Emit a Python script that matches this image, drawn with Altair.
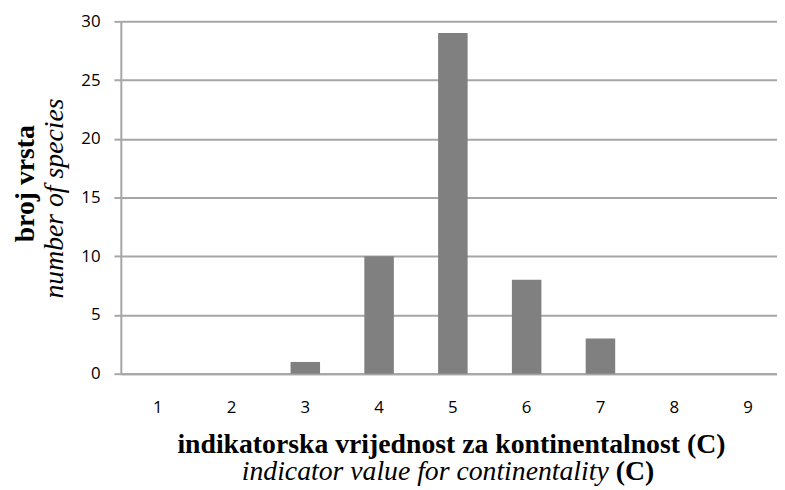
import altair as alt
import pandas as pd

categories = ["1", "2", "3", "4", "5", "6", "7", "8", "9"]
counts = [0, 0, 1, 10, 29, 8, 3, 0, 0]
y_ticks = [0, 5, 10, 15, 20, 25, 30]

y_title_1 = "broj vrsta"
y_title_2 = "number of species"
x_title_1 = "indikatorska vrijednost za kontinentalnost (C)"
x_title_2a = "indicator value for continentality"
x_title_2b = "(C)"

df = pd.DataFrame({"c": categories, "n": counts})
one = pd.DataFrame({"k": [0]})

GRID = "#a6a6a6"
SERIF = "Liberation Serif"
SANS = "Open Sans"

bars = alt.Chart(df).mark_bar(color="#808080").encode(
    x=alt.X("c:N", sort=categories,
            scale=alt.Scale(range=[0, 671], paddingInner=0.6, paddingOuter=0.3),
            axis=alt.Axis(title=None, labelAngle=0, ticks=False, grid=False,
                          domainColor=GRID, domainWidth=2,
                          labelFont=SANS, labelFontSize=17, labelColor="#000000",
                          labelPadding=26)),
    y=alt.Y("n:Q", scale=alt.Scale(domain=[0, 30], nice=False),
            axis=alt.Axis(title=None, values=y_ticks, grid=True, gridColor=GRID,
                          gridWidth=2, domainColor=GRID, domainWidth=2,
                          tickColor=GRID, tickWidth=2, tickSize=7,
                          labelFont=SANS, labelFontSize=17, labelColor="#000000",
                          labelPadding=14)),
)

def txt(s, x, y, **kw):
    return alt.Chart(one).mark_text(font=SERIF, fontSize=28, color="#000000", **kw).encode(
        x=alt.value(x), y=alt.value(y), text=alt.value(s))

t1 = txt(y_title_1, -88, 164, angle=270, fontWeight="bold", align="center", baseline="alphabetic")
t2 = txt(y_title_2, -58, 179, angle=270, fontStyle="italic", align="center", baseline="alphabetic")
t3 = txt(x_title_1, 334, 436, fontWeight="bold", align="center", baseline="alphabetic")
t4 = txt(x_title_2a, 493, 463, fontStyle="italic", align="right", baseline="alphabetic")
t5 = txt(x_title_2b, 500, 463, fontWeight="bold", align="left", baseline="alphabetic")

chart = alt.layer(bars, t1, t2, t3, t4, t5).properties(
    width=663, height=356,
    autosize=alt.AutoSizeParams(type="none"),
    padding={"left": 114, "top": 11, "right": 0, "bottom": 115},
).configure_view(stroke=None)

chart.save("out.html", embed_options={"renderer": "svg", "actions": False})
